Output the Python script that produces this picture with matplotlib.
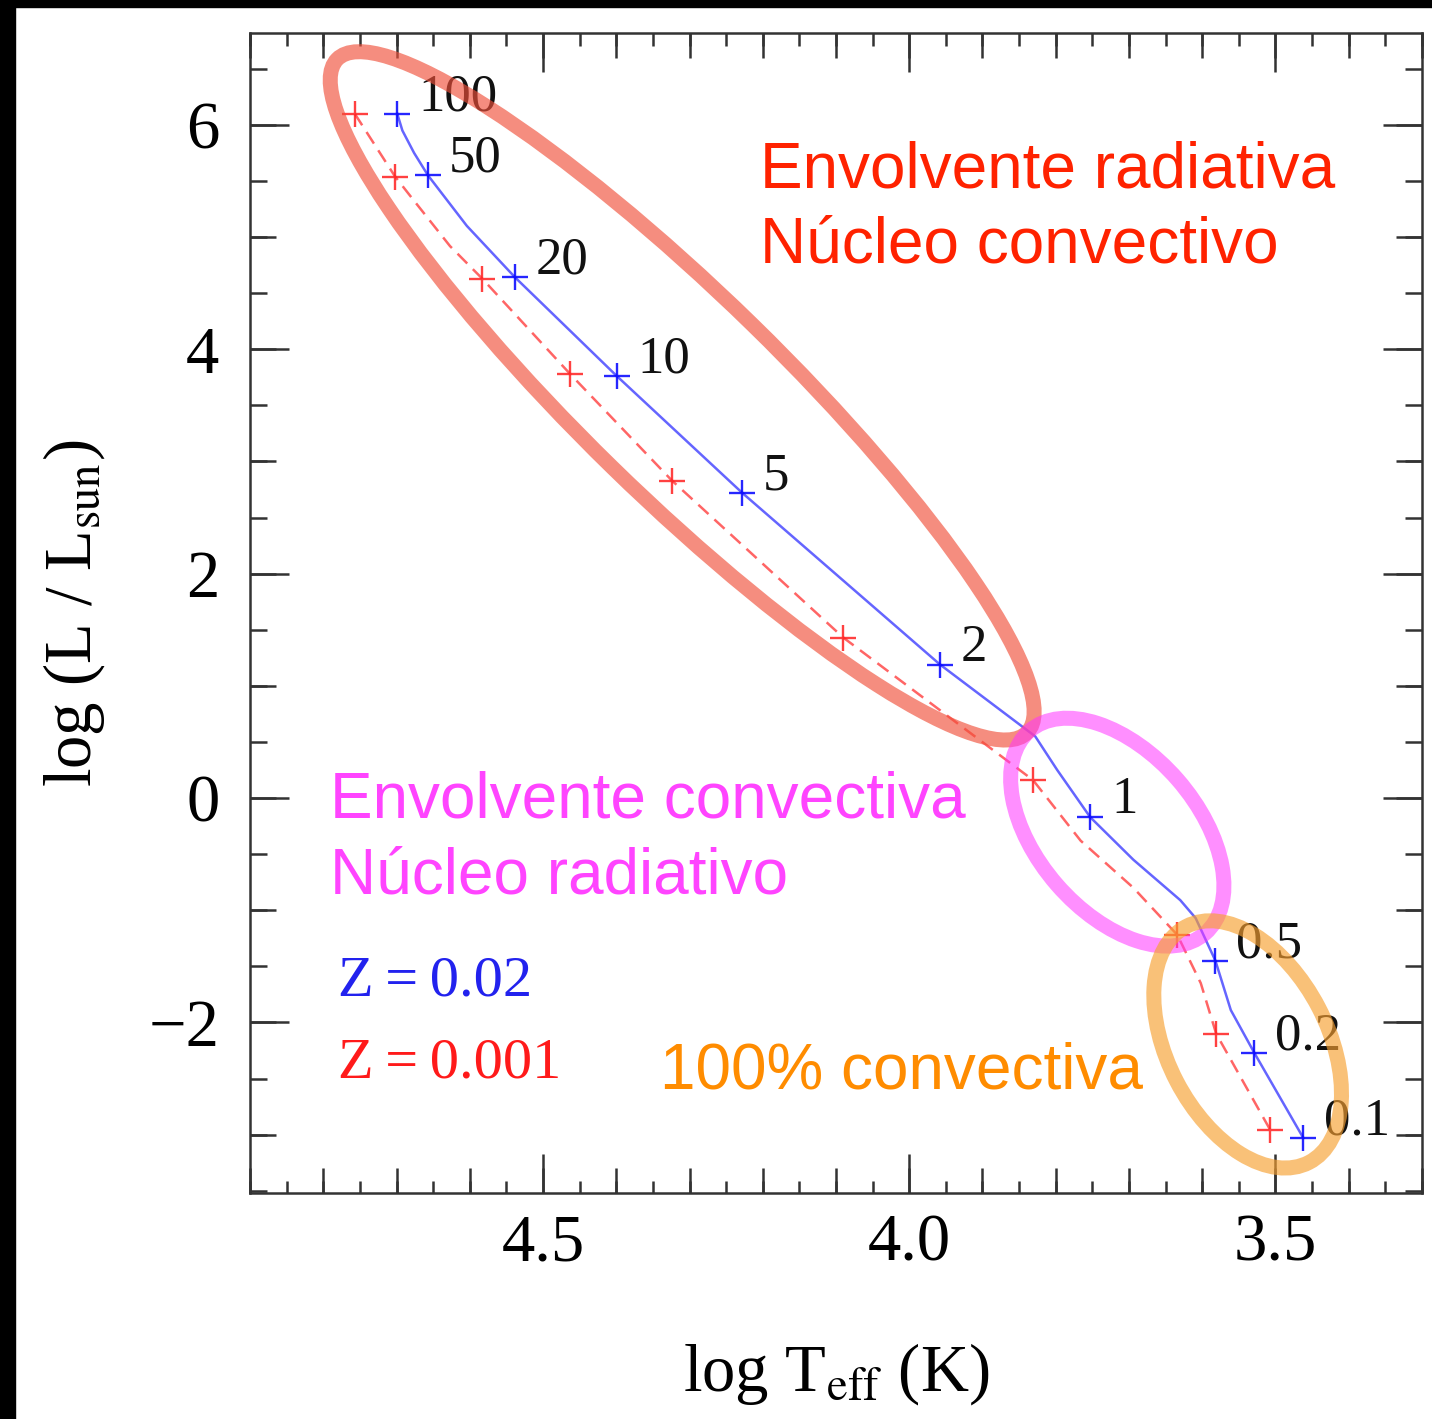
import matplotlib
matplotlib.use('Agg')
import matplotlib.pyplot as plt
from matplotlib.patches import Ellipse, Rectangle
from matplotlib.transforms import ScaledTranslation
from matplotlib.ticker import MultipleLocator

plt.rcParams['font.family'] = ['Liberation Serif', 'DejaVu Serif']
plt.rcParams['mathtext.fontset'] = 'stix'

# ZAMS masses (M_sun)
masses = ['100', '50', '20', '10', '5', '2', '1', '0.5', '0.2', '0.1']

# marked positions on the ZAMS, Z = 0.02
teff_z02 = [4.699, 4.657, 4.538, 4.399, 4.228, 3.958, 3.753, 3.582, 3.529, 3.462]
lum_z02 = [6.10, 5.55, 4.64, 3.76, 2.72, 1.19, -0.17, -1.45, -2.27, -3.03]

# marked positions on the ZAMS, Z = 0.001
teff_z001 = [4.757, 4.702, 4.583, 4.463, 4.324, 4.090, 3.831, 3.634, 3.581, 3.507]
lum_z001 = [6.10, 5.54, 4.63, 3.78, 2.83, 1.43, 0.16, -1.22, -2.10, -2.96]

# ZAMS lines
track_teff_z02 = [4.699, 4.692, 4.676, 4.657, 4.604, 4.538, 4.399, 4.228, 3.958, 3.828,
                  3.798, 3.753, 3.694, 3.630, 3.609, 3.582, 3.561, 3.529, 3.462]
track_lum_z02 = [6.10, 5.95, 5.75, 5.55, 5.10, 4.64, 3.76, 2.72, 1.19, 0.55,
                 0.25, -0.17, -0.55, -0.91, -1.07, -1.45, -1.89, -2.27, -3.03]
track_teff_z001 = [4.757, 4.702, 4.678, 4.627, 4.583, 4.463, 4.324, 4.090, 3.831,
                   3.766, 3.694, 3.634, 3.602, 3.581, 3.507]
track_lum_z001 = [6.10, 5.54, 5.34, 4.92, 4.63, 3.78, 2.83, 1.43, 0.16,
                  -0.38, -0.80, -1.22, -1.65, -2.10, -2.96]

x_major = [4.5, 4.0, 3.5]
x_labels = ['4.5', '4.0', '3.5']
y_major = [-2, 0, 2, 4, 6]
y_labels = ['\u22122', '0', '2', '4', '6']

BLUE = '#0000ff'
RED = '#ff2020'

fig = plt.figure(figsize=(14.32, 14.19), dpi=100)
ax = fig.add_axes([0.1746, 0.1593, 0.8184, 0.8175])

# lines
ax.plot(track_teff_z02, track_lum_z02, '-', color='#4a4aff', lw=1.8, alpha=0.85, zorder=2)
ax.plot(track_teff_z001, track_lum_z001, '--', color='#ff4a4a', lw=1.8, alpha=0.85,
        dashes=(5.5, 3.2), zorder=2)
ax.plot(teff_z02, lum_z02, '+', color=BLUE, ms=19, mew=1.7, alpha=0.85, zorder=3)
ax.plot(teff_z001, lum_z001, '+', color=RED, ms=19, mew=1.7, alpha=0.85, zorder=3)

for m, x, y in zip(masses, teff_z02, lum_z02):
    ax.annotate(m, (x, y), xytext=(15, 12), textcoords='offset points',
                fontsize=38, ha='left', va='center', color='#111111', zorder=4)

# regions (ellipses drawn in pixel units around a data-space centre)
regions = [
    # centre (teff, lum), semi-axes px, angle, colour, alpha
    ((4.310, 3.585), 482, 100, -44.3, '#f0503a', 0.65),
    ((3.716, -0.304), 134, 80, -49.0, '#ff33ff', 0.55),
    ((3.538, -2.196), 133, 80, -62.5, '#f7a030', 0.65),
]
for (cx, cy), a, b, ang, col, alp in regions:
    tr = fig.dpi_scale_trans + ScaledTranslation(cx, cy, ax.transData)
    e = Ellipse((0, 0), 2 * a / 100, 2 * b / 100, angle=ang, transform=tr,
                fill=False, edgecolor=col, lw=10.8, alpha=alp, zorder=5)
    ax.add_patch(e)

sans = ['Liberation Sans', 'DejaVu Sans']
ax.text(4.2036, 5.446, 'Envolvente radiativa', color='#ff2200', fontsize=46,
        family=sans, va='baseline', zorder=6)
ax.text(4.2036, 4.777, 'Núcleo convectivo', color='#ff2200', fontsize=46,
        family=sans, va='baseline', zorder=6)
ax.text(4.791, -0.170, 'Envolvente convectiva', color='#ff44ff', fontsize=46,
        family=sans, va='baseline', zorder=6)
ax.text(4.791, -0.848, 'Núcleo radiativo', color='#ff44ff', fontsize=46,
        family=sans, va='baseline', zorder=6)
ax.text(4.340, -2.589, '100% convectiva', color='#ff8c00', fontsize=46,
        family=sans, va='baseline', zorder=6)
ax.text(4.780, -1.759, 'Z\u2009=\u20090.02', color='#2222ee', fontsize=42,
        va='baseline', zorder=6)
ax.text(4.780, -2.491, 'Z\u2009=\u20090.001', color='#ff1a1a', fontsize=42,
        va='baseline', zorder=6)

# axes
ax.set_xlim(4.9, 3.3)
ax.set_ylim(-3.52, 6.82)
ax.set_xticks(x_major, x_labels)
ax.set_yticks(y_major, y_labels)
ax.xaxis.set_minor_locator(MultipleLocator(0.05))
ax.yaxis.set_minor_locator(MultipleLocator(0.5))
ax.tick_params(which='both', direction='in', top=True, right=True,
               width=1.8, color='#333333')
ax.tick_params(which='major', length=28, labelsize=48)
ax.tick_params(axis='x', which='major', pad=15)
ax.tick_params(axis='y', which='major', pad=22)
ax.tick_params(axis='x', which='minor', length=9)
ax.tick_params(axis='y', which='minor', length=12)
for s in ax.spines.values():
    s.set_linewidth(1.8)
    s.set_color('#333333')

# intermediate tick level
for loc in ('bottom', 'top'):
    sec = ax.secondary_xaxis(loc)
    sec.set_xticks([4.9 - 0.1 * i for i in range(17)])
    sec.tick_params(direction='in', length=18, width=1.8, color='#333333',
                    labelbottom=False, labeltop=False)
    sec.spines[loc].set_visible(False)
for loc in ('left', 'right'):
    sec = ax.secondary_yaxis(loc)
    sec.set_yticks(list(range(-3, 7)))
    sec.tick_params(direction='in', length=19, width=1.8, color='#333333',
                    labelleft=False, labelright=False)
    sec.spines[loc].set_visible(False)

ax.set_xlabel('log T$_{\\mathrm{eff}}$ (K)', fontsize=48, labelpad=48)
ax.set_ylabel('log (L / L$_{\\mathrm{sun}}$)', fontsize=48, labelpad=30)

# dark frame along the top and left edges
fig.patches.append(Rectangle((0, 0), 15 / 1432, 1, transform=fig.transFigure,
                             color='black', zorder=10))
fig.patches.append(Rectangle((0, 1 - 7 / 1419), 1, 7 / 1419, transform=fig.transFigure,
                             color='black', zorder=10))

fig.savefig('out.png', dpi=100)
